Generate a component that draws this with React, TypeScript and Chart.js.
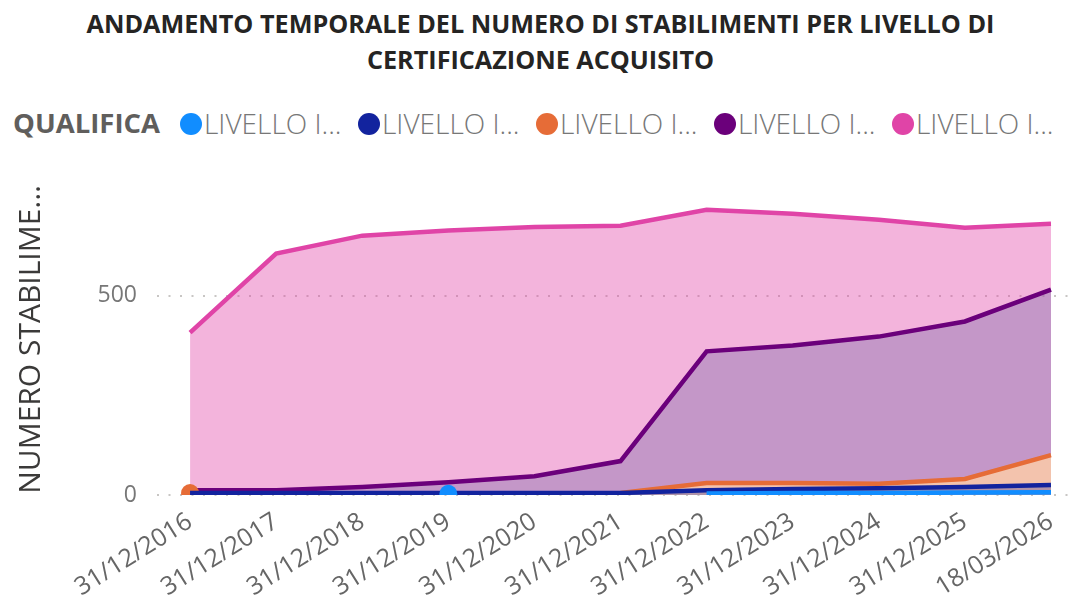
import React, { useEffect, useRef } from "react";
import { Chart, registerables } from "chart.js";

Chart.register(...registerables);

const titleLines = [
  "ANDAMENTO TEMPORALE DEL NUMERO DI STABILIMENTI PER LIVELLO DI",
  "CERTIFICAZIONE ACQUISITO",
];
const legendTitle = "QUALIFICA";
const yAxisTitle = "NUMERO STABILIME...";

const categories = [
  "31/12/2016",
  "31/12/2017",
  "31/12/2018",
  "31/12/2019",
  "31/12/2020",
  "31/12/2021",
  "31/12/2022",
  "31/12/2023",
  "31/12/2024",
  "31/12/2025",
  "18/03/2026",
];

const seriesNames = ["LIVELLO I...", "LIVELLO I...", "LIVELLO I...", "LIVELLO I...", "LIVELLO I..."];
const seriesColors = ["#118DFF", "#12239E", "#E66C37", "#6B007B", "#E044A7"];
const seriesFills = [
  "rgba(17,141,255,0.3)",
  "rgba(18,35,158,0.3)",
  "rgba(255,207,168,0.8)",
  "rgba(126,108,170,0.4)",
  "rgba(224,68,167,0.4)",
];

const livello1 = [null, null, null, 3, null, null, 4, 5, 5, 6, 7];
const livello2 = [5, 5, 5, 5, 5, 5, 12, 15, 17, 20, 25];
const livello3 = [5, null, null, null, null, 5, 30, 30, 28, 40, 100];
const livello4 = [12, 12, 20, 32, 47, 85, 360, 375, 397, 435, 515];
const livello5 = [407, 605, 650, 663, 672, 675, 715, 705, 690, 670, 680];

const seriesValues = [livello1, livello2, livello3, livello4, livello5];
const yTicks = [0, 500];

const FONT = "'Open Sans', 'Noto Sans', sans-serif";

export default function App() {
  const canvasRef = useRef<HTMLCanvasElement | null>(null);

  useEffect(() => {
    if (!canvasRef.current) return;
    const datasets = seriesValues.map((vals, si) => ({
      label: seriesNames[si],
      data: vals.map((v, i) => ({ x: i, y: v })),
      borderColor: seriesColors[si],
      backgroundColor: seriesFills[si],
      pointBackgroundColor: seriesColors[si],
      pointBorderWidth: 0,
      borderWidth: 4.5,
      fill: "origin",
      tension: 0,
      spanGaps: false,
      order: si + 1,
      clip: { left: 12, top: 12, right: 12, bottom: 0 },
      pointRadius: (ctx: any) => {
        const i = ctx.dataIndex;
        const v = vals[i];
        if (v === null || v === undefined) return 0;
        const prev = i > 0 ? vals[i - 1] : null;
        const next = i < vals.length - 1 ? vals[i + 1] : null;
        return prev == null && next == null ? 9 : 0;
      },
      pointHoverRadius: 0,
    }));

    const chart = new Chart(canvasRef.current, {
      type: "line",
      data: { datasets: datasets as any },
      options: {
        animation: false,
        responsive: false,
        maintainAspectRatio: false,
        layout: { padding: { top: 0, right: 0, bottom: 0, left: 0 } },
        plugins: {
          legend: { display: false },
          tooltip: { enabled: false },
        },
        scales: {
          x: {
            type: "linear",
            min: -0.384,
            max: 10.244,
            afterBuildTicks: (axis: any) => {
              axis.ticks = categories.map((_, i) => ({ value: i }));
            },
            afterFit: (axis: any) => {
              axis.height = 104;
            },
            grid: { display: false },
            border: { display: false },
            ticks: {
              autoSkip: false,
              minRotation: 32,
              maxRotation: 32,
              padding: 4,
              color: "#666666",
              font: { family: FONT, size: 25 },
              callback: (v: any) => categories[v as number] ?? "",
            },
          },
          y: {
            min: 0,
            max: 780,
            afterBuildTicks: (axis: any) => {
              axis.ticks = yTicks.map((v) => ({ value: v }));
            },
            afterFit: (axis: any) => {
              axis.width = 157;
            },
            grid: {
              color: "#c8c6c4",
              lineWidth: 2,
              drawTicks: false,
            },
            border: { display: false, dash: [2, 9.5] },
            ticks: {
              padding: 20,
              color: "#777777",
              font: { family: FONT, size: 23 },
            },
            title: {
              display: true,
              text: yAxisTitle,
              color: "#3b3a39",
              font: { family: FONT, size: 30 },
              padding: { top: 13, bottom: 0 },
              align: "center",
            },
          },
        },
      } as any,
    });
    return () => chart.destroy();
  }, []);

  const legendCenters = [191, 369, 547, 725, 903];

  return (
    <div
      style={{
        position: "fixed",
        left: 0,
        top: 0,
        width: 1081,
        height: 599,
        background: "#ffffff",
        overflow: "hidden",
        fontFamily: FONT,
      }}
    >
      {titleLines.map((t, i) => (
        <div
          key={i}
          style={{
            position: "absolute",
            left: 0,
            width: 1081,
            top: 5 + i * 36,
            textAlign: "center",
            fontSize: 25.2,
            fontWeight: 700,
            color: "#252423",
            lineHeight: "36px",
            whiteSpace: "nowrap",
          }}
        >
          {t}
        </div>
      ))}
      <div
        style={{
          position: "absolute",
          left: 13,
          top: 104,
          fontSize: 27.5,
          fontWeight: 700,
          color: "#605E5C",
          lineHeight: "38px",
        }}
      >
        {legendTitle}
      </div>
      {seriesNames.map((name, i) => (
        <React.Fragment key={i}>
          <div
            style={{
              position: "absolute",
              left: legendCenters[i] - 11,
              top: 113,
              width: 22,
              height: 22,
              borderRadius: 11,
              background: seriesColors[i],
            }}
          />
          <div
            style={{
              position: "absolute",
              left: legendCenters[i] + 13,
              top: 104,
              fontSize: 28,
              fontWeight: 300,
              color: "#777777",
              lineHeight: "38px",
              whiteSpace: "nowrap",
            }}
          >
            {name}
          </div>
        </React.Fragment>
      ))}
      <canvas
        ref={canvasRef}
        width={1081}
        height={449}
        style={{ position: "absolute", left: 0, top: 150, width: 1081, height: 449 }}
      />
    </div>
  );
}
